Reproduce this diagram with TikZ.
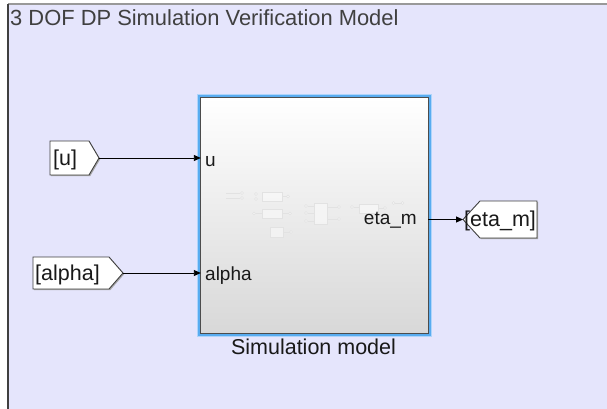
\documentclass[tikz,border=0pt]{standalone}
\usepackage{fontspec}
\setmainfont{Liberation Sans}
\usetikzlibrary{arrows.meta}
\definecolor{areafill}{RGB}{229,229,252}
\definecolor{selblue}{RGB}{88,172,240}
\definecolor{selglow}{RGB}{175,212,250}
\definecolor{titlegray}{RGB}{64,64,64}
\definecolor{blockgray}{RGB}{216,216,216}
\definecolor{thumb}{RGB}{226,226,226}
\begin{document}
\begin{tikzpicture}[x=1pt,y=-1pt,
  sig/.style={draw=black, line width=0.9pt, -{Triangle[length=7pt,width=6pt]}},
  tagshape/.style={fill=white, draw=black!75, line width=0.9pt, line join=miter},
  tagshadow/.style={fill=black!35, draw=none},
  portlbl/.style={font=\fontsize{19}{22}\selectfont, inner sep=0pt, text=black!90},
  taglbl/.style={font=\fontsize{21.5}{24}\selectfont, inner sep=0pt, text=black!90},
  thumbline/.style={draw=thumb, line width=0.6pt},
  thumbbox/.style={draw=thumb, fill=white, fill opacity=0.45, line width=0.6pt},
]
\useasboundingbox (0,0) rectangle (607,409);
\fill[white] (0,0) rectangle (607,409);

% annotation area
\fill[areafill] (8,4) rectangle (607,409);
\draw[black!40, line width=1.5pt] (8,4) -- (607,4);
\draw[black!75, line width=1.5pt] (8,4) -- (8,409);
\node[anchor=base west, inner sep=0pt, text=titlegray, font=\fontsize{21.9}{24}\selectfont] (title) at (10,25.5) {3 DOF DP Simulation Verification Model};

% subsystem block
\node[minimum width=227pt, minimum height=235pt, inner sep=0pt] (sim) at (314.5,215.5) {};
\draw[selglow, line width=1.2pt] ([shift={(-3.6,-3.6)}]sim.north west) rectangle ([shift={(3.6,3.6)}]sim.south east);
\draw[selblue, line width=2.6pt] ([shift={(-1.6,-1.6)}]sim.north west) rectangle ([shift={(1.6,1.6)}]sim.south east);
\shade[top color=white, middle color=white, bottom color=blockgray] (sim.north west) rectangle (sim.south east);
\draw[black!70, line width=1pt] (sim.north west) rectangle (sim.south east);

% faint content preview
\draw[thumbline] (226,193) -- (240,193) (226,198) -- (240,198);
\draw[thumbbox] (242,193) circle (1.5) (242,198) circle (1.5);
\draw[thumbbox] (262,192) rectangle (282,201);
\draw[thumbbox] (256,194) circle (1.5) (256,199) circle (1.5);
\draw[thumbline] (282,196.5) -- (286.5,196.5);
\draw[thumbbox] (288,196.5) circle (1.5);
\draw[thumbbox] (262,209) rectangle (282,218);
\draw[thumbline] (255.5,213.5) -- (262,213.5) (282,213.5) -- (288.5,213.5);
\draw[thumbbox] (254,213.5) circle (1.5) (290,213.5) circle (1.5);
\draw[thumbbox] (270,227) rectangle (283,237);
\draw[thumbline] (283,232) -- (289.5,232);
\draw[thumbbox] (291,232) circle (1.5);
\draw[thumbbox] (314,203) rectangle (327,224);
\draw[thumbline] (307.5,206) -- (314,206) (307.5,213) -- (314,213) (307.5,221) -- (314,221)
  (327,207) -- (337.5,207) (327,219) -- (337.5,219);
\draw[thumbbox] (306,206) circle (1.5) (306,213) circle (1.5) (306,221) circle (1.5)
  (339,207) circle (1.5) (339,219) circle (1.5);
\draw[thumbbox] (359,204) rectangle (378,213);
\draw[thumbline] (353.5,207) -- (359,207) (378,208) -- (383.5,208);
\draw[thumbbox] (352,207) circle (1.5) (385,208) circle (1.5);
\draw[thumbline] (395,203) -- (401,203);
\draw[thumbbox] (393.5,203) circle (1.5) (402.5,203) circle (1.5);

% port labels
\node[portlbl, anchor=base west] (uport) at (205,166) {u};
\node[portlbl, anchor=base west] (aport) at (205,280) {alpha};
\node[portlbl, anchor=base east] (eport) at (417,224) {eta\_m};
\node[anchor=base, inner sep=0pt, font=\fontsize{21.5}{24}\selectfont, text=black!90] (simlbl) at (313.5,354) {Simulation model};

% From tags
\coordinate (utip) at (99,158);
\fill[tagshadow] (51.2,142.2) -- (90.2,142.2) -- (100.2,159.2) -- (90.2,176.2) -- (51.2,176.2) -- cycle;
\draw[tagshape] (50,141) -- (89,141) -- (utip) -- (89,175) -- (50,175) -- cycle;
\node[taglbl, anchor=base west] (utag) at (53,165.5) {[u]};

\coordinate (atip) at (123,273);
\fill[tagshadow] (34.2,258.2) -- (110.2,258.2) -- (124.2,274.2) -- (110.2,290.2) -- (34.2,290.2) -- cycle;
\draw[tagshape] (33,257) -- (109,257) -- (atip) -- (109,289) -- (33,289) -- cycle;
\node[taglbl, anchor=base west] (atag) at (35,280.5) {[alpha]};

% Goto tag
\coordinate (etip) at (463,219.5);
\fill[tagshadow] (464.2,220.7) -- (481.2,202.2) -- (538.2,202.2) -- (538.2,239.2) -- (481.2,239.2) -- cycle;
\draw[tagshape] (etip) -- (480,201) -- (537,201) -- (537,238) -- (480,238) -- cycle;
\node[taglbl, anchor=base west] (etag) at (464,226.5) {[eta\_m]};

% signal lines
\draw[sig] (utip) -- (utip -| sim.west);
\draw[sig] (atip) -- (atip -| sim.west);
\draw[sig] (etip -| sim.east) -- (etip);
\end{tikzpicture}
\end{document}
